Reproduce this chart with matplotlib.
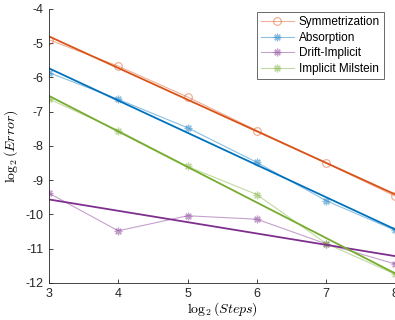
import numpy as np
import matplotlib
matplotlib.use('Agg')
import matplotlib.pyplot as plt

plt.rcParams['font.family'] = ['Liberation Sans', 'DejaVu Sans']
plt.rcParams['mathtext.fontset'] = 'cm'
plt.rcParams['axes.unicode_minus'] = False

#  log2 of the number of steps
steps = np.array([3, 4, 5, 6, 7, 8])

#  log2 of the error for each scheme
err_sym   = np.array([-4.90, -5.67, -6.57, -7.55, -8.50, -9.47])
err_abs   = np.array([-5.86, -6.64, -7.47, -8.48, -9.60, -10.47])
err_drift = np.array([-9.38, -10.48, -10.04, -10.14, -10.86, -11.45])
err_mil   = np.array([-6.63, -7.55, -8.60, -9.42, -10.85, -11.75])

names = ['Symmetrization', 'Absorption', 'Drift-Implicit', 'Implicit Milstein']
colors = ['#D95319', '#0072BD', '#7E2F8E', '#77AC30']
markers = ['o', (8, 2, 0), (8, 2, 0), (8, 2, 0)]
series = [err_sym, err_abs, err_drift, err_mil]

fig = plt.figure(figsize=(3.95, 3.2), dpi=100)
ax = fig.add_axes([0.124, 0.116, 0.877, 0.856])

for y, c, m, name in zip(series, colors, markers, names):
    ax.plot(steps, y, color=c, alpha=0.45, lw=0.8, marker=m, ms=5.5,
            mfc='none', mew=0.9, label=name)

#  least squares fit for each scheme
xs = np.array([steps[0], steps[-1]])
for y, c in zip(series, colors):
    p = np.polyfit(steps, y, 1)
    ax.plot(xs, np.polyval(p, xs), color=c, lw=1.3)

ax.set_xlim(3, 8)
ax.set_ylim(-12, -4)
ax.set_xticks(steps)
ax.set_yticks(np.arange(-12, -3, 1))
ax.tick_params(direction='in', length=3, labelsize=9, colors='#262626',
               width=0.6, pad=4)
for s in ['top', 'right']:
    ax.spines[s].set_visible(False)
for s in ['left', 'bottom']:
    ax.spines[s].set_color('#262626')
    ax.spines[s].set_linewidth(0.6)

ax.set_xlabel(r'$\log_2(Steps)$', fontsize=10, labelpad=0)
ax.set_ylabel(r'$\log_2(Error)$', fontsize=10, labelpad=4)

leg = ax.legend(loc='upper right', bbox_to_anchor=(384 / 395, 1 - 12 / 320),
                bbox_transform=fig.transFigure, fontsize=8.5, frameon=True,
                fancybox=False, borderpad=0.35, labelspacing=0.3,
                handlelength=2.8, handletextpad=0.4, borderaxespad=0)
leg.get_frame().set_edgecolor('#262626')
leg.get_frame().set_linewidth(0.6)

fig.savefig('out.png', dpi=100)
